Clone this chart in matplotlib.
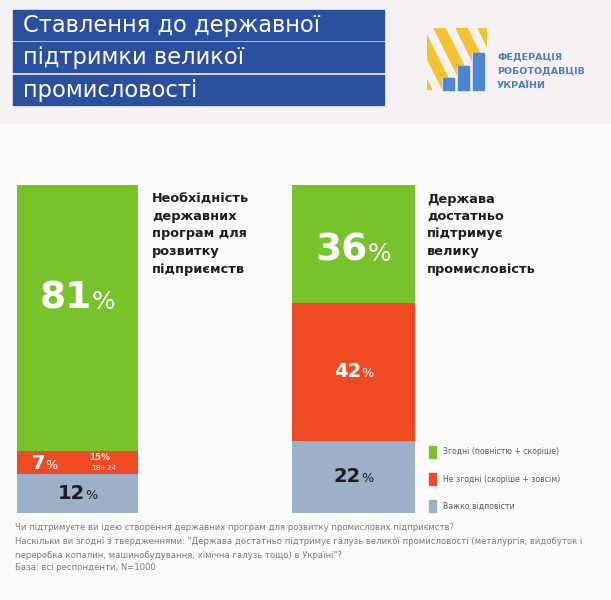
import matplotlib
matplotlib.use("Agg")
import matplotlib.pyplot as plt
from matplotlib.patches import Rectangle, Polygon

plt.rcParams['font.family'] = ['DejaVu Sans']

# ---- data ----
series_names = ["Згодні (повністю + скоріше)", "Не згодні (скоріше + зовсім)", "Важко відповісти"]
bar_titles = ["Необхідність\nдержавних\nпрограм для\nрозвитку\nпідприємств",
              "Держава\nдостатньо\nпідтримує\nвелику\nпромисловість"]
agree = [81, 36]
disagree = [7, 42]
hard = [12, 22]
youth_note = ["15%", "18+24"]
title_lines = ["Ставлення до державної", "підтримки великої", "промисловості"]
logo_lines = ["ФЕДЕРАЦІЯ", "РОБОТОДАВЦІВ", "УКРАЇНИ"]
footnotes = [
    "Чи підтримуєте ви ідею створення державних програм для розвитку промислових підприємств?",
    "Наскільки ви згодні з твердженнями: \"Держава достатньо підтримує галузь великої промисловості (металургія, видобуток і",
    "переробка копалин, машинобудування, хімічна галузь тощо) в Україні\"?",
    "База: всі респонденти, N=1000",
]

GREEN = "#78c22c"
RED = "#ee4a24"
GREY = "#9cb1c7"
BLUE = "#2b4f9f"
YEL = "#f3c332"
LBLUE = "#4d87d1"

W, H = 611, 600
fig = plt.figure(figsize=(W / 100, H / 100), dpi=100)
fig.patch.set_facecolor("#fbfbfb")

bg = fig.add_axes([0, 0, 1, 1])
bg.set_xlim(0, W)
bg.set_ylim(H, 0)
bg.axis("off")
bg.add_patch(Rectangle((0, 0), W, 123, color="#f6f2f4", zorder=0))

# title boxes
box_y = [10, 42, 75]
for y, line in zip(box_y, title_lines):
    bg.add_patch(Rectangle((13, y), 371, 30, color=BLUE, zorder=1))
    bg.text(23, y + 15.5, line, color="white", fontsize=16.3, va="center", ha="left", zorder=2)

# logo: diagonal yellow stripes clipped to a staircase, blue bars
clip = Polygon([(427, 28), (487, 28), (487, 53), (472, 53), (472, 66), (457, 66),
                (457, 78), (442, 78), (442, 90), (427, 90)], closed=True,
               transform=bg.transData, facecolor="none", edgecolor="none")
bg.add_patch(clip)
slope = 2.0
for x0 in [390, 412, 434, 456, 478]:
    pts = [(x0, 28), (x0 + 11, 28), (x0 + 11 + 62 / slope, 90), (x0 + 62 / slope, 90)]
    p = Polygon(pts, closed=True, color=YEL, zorder=1)
    bg.add_patch(p)
    p.set_clip_path(clip)
for x0, y0 in [(442, 78), (457, 66), (472, 53)]:
    bg.add_patch(Rectangle((x0 + 0.5, y0), 11, 90 - y0, color=LBLUE, zorder=2))
for i, t in enumerate(logo_lines):
    bg.text(497, 57 + i * 14, t, color="#4a7dc9", fontsize=6.8, fontweight="bold",
            va="center", ha="left")

# ---- bars ----
ax_left, ax_right, ax_top, ax_bot = 17, 415, 185, 513
ax = fig.add_axes([ax_left / W, 1 - ax_bot / H, (ax_right - ax_left) / W, (ax_bot - ax_top) / H])
ax.set_xlim(0, ax_right - ax_left)
ax.set_ylim(100, 0)
ax.axis("off")
xs = [60.5, 336.5]
widths = [121, 123]
ax.bar(xs, agree, width=widths, color=GREEN, bottom=0)
ax.bar(xs, disagree, width=widths, color=RED, bottom=agree)
ax.bar(xs, hard, width=widths, color=GREY, bottom=[a + d for a, d in zip(agree, disagree)])

fig.canvas.draw()
renderer = fig.canvas.get_renderer()


def pct_label(x, y, value, size, color, ha_center=True, ratio=0.66, gap=0.0):
    t = ax.text(x, y, f"{value}", fontsize=size, fontweight="bold", color=color,
                ha="left", va="baseline")
    p = ax.text(x, y, "%", fontsize=size * ratio, color=color, ha="left", va="baseline")
    bb_t = t.get_window_extent(renderer)
    bb_p = p.get_window_extent(renderer)
    total = bb_t.width + gap + bb_p.width
    inv = ax.transData.inverted()
    xd, yd = ax.transData.transform((x, y))
    start = xd - total / 2 if ha_center else xd
    cap = size * 0.729 * 100 / 72
    base_y = inv.transform((0, yd - cap / 2))[1]
    t.set_position((inv.transform((start, 0))[0], base_y))
    p.set_position((inv.transform((start + bb_t.width + gap, 0))[0], base_y))


# left bar
pct_label(xs[0], 33.5, agree[0], 27, "white")
pct_label(15, agree[0] + disagree[0] / 2, disagree[0], 14, "white", ha_center=False)
pct_label(xs[0], agree[0] + disagree[0] + hard[0] / 2 - 0.5, hard[0], 14, "#1c1c1c")
ax.text(82, agree[0] + disagree[0] / 2 - 1.3, youth_note[0], fontsize=6.3, fontweight="bold",
        color="#fde3da", ha="center", va="center")
ax.text(87, agree[0] + disagree[0] / 2 + 1.7, youth_note[1], fontsize=5.4,
        color="#fde3da", ha="center", va="center")
# right bar
pct_label(xs[1], agree[1] / 2 + 1, agree[1], 27, "white")
pct_label(xs[1], agree[1] + disagree[1] / 2 - 0.5, disagree[1], 14, "white")
pct_label(xs[1], agree[1] + disagree[1] + hard[1] / 2 - 0.5, hard[1], 14, "#1c1c1c")

# bar titles
for x, t in zip([152, 427], bar_titles):
    bg.text(x, 192.5, t, fontsize=9.3, fontweight="bold", color="#1e1e1e", ha="left", va="top",
            linespacing=1.45)

# legend
for i, (name, c) in enumerate(zip(series_names, [GREEN, RED, GREY])):
    y = 452 + i * 27
    bg.add_patch(Rectangle((429, y - 6), 6.5, 12, color=c))
    bg.text(443, y, name, fontsize=5.6, color="#5a5a5a", ha="left", va="center")

# footnotes
for y, t in zip([527, 541, 555, 568], footnotes):
    bg.text(15, y, t, fontsize=6.1, color="#7a7a7a", ha="left", va="center")

fig.savefig("out.png", dpi=100, facecolor=fig.get_facecolor())
